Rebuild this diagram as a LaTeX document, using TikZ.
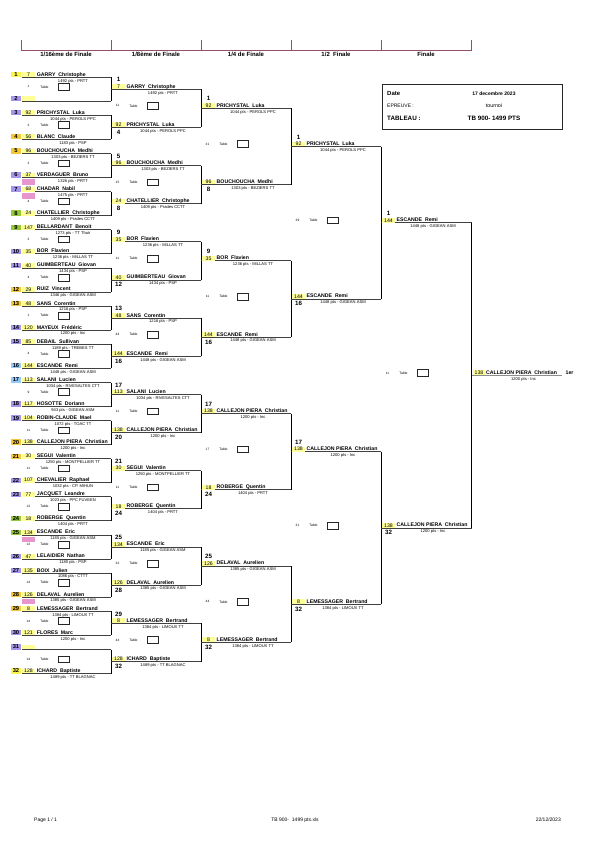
\documentclass[tikz,border=0pt]{standalone}
\usepackage{fontspec}
\setmainfont{Liberation Sans}
\usetikzlibrary{calc}
\definecolor{seedyel}{RGB}{255,255,153}
\definecolor{cyel}{RGB}{250,245,80}
\definecolor{cpur}{RGB}{165,150,235}
\definecolor{cgold}{RGB}{245,200,60}
\definecolor{cgrn}{RGB}{150,200,60}
\definecolor{cblue}{RGB}{150,200,250}
\definecolor{cpink}{RGB}{230,150,205}
\definecolor{hdrcol}{RGB}{150,80,100}

% #1 prefix, #2 xa, #3 xb, #4 line y, #5 seed, #6 name, #7 pts, #8 match number, #9 index
\newcommand\bracketentry[9]{%
  \coordinate (#1a) at (#2,#4);
  \coordinate (#1b) at (#3,#4);
  \draw[hline] (#1a) -- (#1b);
  \node[seedbox] (#1seed) at (#2+7.5,#4-2.6) {#5};
  \node[nm] (#1name) at (#2+15.5,#4-1.2) {#6};
  \node[ptsst] (#1pts) at (#2+52,#4+4.7) {#7};
  \pgfmathtruncatemacro\updown{mod(#9,2)}%
  \ifnum\updown=1
    \node[matchnum] (#1num) at (#2+7.5,#4-7.4) {#8};
  \else
    \node[matchnum] (#1num) at (#2+7.5,#4+6.8) {#8};
  \fi
}
% #1 name, #2 xa, #3 y, #4 number
\newcommand\tablemark[4]{%
  \node[tabnum] (#1n) at (#2+6.5,#3+1.1) {#4};
  \node[tablab] (#1l) at (#2+22.5,#3+1.2) {Table};
  \node[tabbox] (#1b) at (#2+41.5,#3) {};
}

\begin{document}
\begin{tikzpicture}[x=1pt,y=-1pt,
  nm/.style={font=\bfseries\fontsize{5.2}{6}\selectfont, anchor=base west, inner sep=0pt},
  ptsst/.style={font=\fontsize{4.1}{5}\selectfont, anchor=base, inner sep=0pt},
  seedbox/.style={fill=seedyel, draw=none, inner sep=0pt, minimum width=13pt, minimum height=4.8pt, font=\fontsize{5.2}{6}\selectfont},
  slotbox/.style={draw=none, inner sep=0pt, minimum width=10pt, minimum height=5.3pt, font=\bfseries\fontsize{5.8}{6}\selectfont},
  matchnum/.style={font=\bfseries\fontsize{6.2}{7}\selectfont, anchor=base, inner sep=0pt},
  hline/.style={draw=black!75, line width=1pt},
  vline/.style={draw=black, line width=0.75pt},
  tabnum/.style={font=\fontsize{3.2}{4}\selectfont, anchor=base, inner sep=0pt},
  tablab/.style={font=\fontsize{3.4}{4}\selectfont, anchor=base, inner sep=0pt},
  tabbox/.style={draw=black!85, line width=0.5pt, minimum width=10.6pt, minimum height=6.6pt, inner sep=0pt},
  hdrlab/.style={font=\bfseries\fontsize{6}{7}\selectfont, anchor=base, inner sep=0pt},
  hdr/.style={draw=hdrcol, line width=0.8pt},
  foot/.style={font=\fontsize{5}{6}\selectfont, anchor=base, inner sep=0pt},
]
\useasboundingbox[fill=white] (0,0) rectangle (595,841);

% ---------- header ----------
\foreach \x/\n in {21/t0,111/t1,201/t2,291/t3,381/t4,471.5/t5}{
  \coordinate (\n top) at (\x,40);
  \coordinate (\n bot) at (\x,50);
  \draw[hdr] (\n top) -- (\n bot);
}
\draw[hdr] (t0bot) -- (t5bot);
\node[hdrlab] (h1) at (66,56.2) {1/16ème de Finale};
\node[hdrlab] (h2) at (156,56.2) {1/8ème de Finale};
\node[hdrlab] (h3) at (246,56.2) {1/4 de Finale};
\node[hdrlab] (h4) at (336,56.2) {1/2~ Finale};
\node[hdrlab] (h5) at (426,56.2) {Finale};

% ---------- round 1 (1/16) ----------
\foreach \k/\slotcol/\sd/\nm/\pt in {
1/cyel/7/GARRY~ Christophe/1492 pts - PRTT,
2/cpur/{}/{}/{},
3/cpur/92/PRICHYSTAL~ Luka/1044 pts - PEROLS PPC,
4/cgold/56/BLANC~ Claude/1183 pts - PSP,
5/cgold/96/BOUCHOUCHA~ Medhi/1303 pts - BEZIERS TT,
6/cpur/37/VERDAGUER~ Bruno/1326 pts - PRTT,
7/cpur/68/CHADAR~ Nabil/1475 pts - PRTT,
8/cgrn/24/CHATELLIER~ Christophe/1409 pts - Prades CCTT,
9/cgrn/147/BELLARDANT~ Benoit/1273 pts - TT Thuir,
10/cpur/35/BOR~ Flavien/1236 pts - MILLAS TT,
11/cpur/40/GUIMBERTEAU~ Giovan/1434 pts - PSP,
12/cgold/29/RUIZ~ Vincent/1346 pts - GIGEAN ASM,
13/cgold/48/SANS~ Corentin/1216 pts - PSP,
14/cpur/120/MAYEUX~ Frédéric/1200 pts - Inc,
15/cpur/85/DEBAIL~ Sullivan/1189 pts - TREBES TT,
16/cblue/144/ESCANDE~ Remi/1448 pts - GIGEAN ASM,
17/cblue/113/SALANI~ Lucien/1034 pts - RIVESALTES CTT,
18/cpur/117/HOSOTTE~ Doriann/943 pts - GIGEAN ASM,
19/cpur/104/ROBIN-CLAUDE~ Mael/1072 pts - TOAC TT,
20/cgold/138/CALLEJON PIERA~ Christian/1200 pts - Inc,
21/cgold/30/SEGUI~ Valentin/1250 pts - MONTPELLIER TT,
22/cpur/107/CHEVALIER~ Raphael/1032 pts - CP. MIHUN,
23/cpur/77/JACQUET~ Leandre/1023 pts - PPC FUVEEN,
24/cgrn/18/ROBERGE~ Quentin/1404 pts - PRTT,
25/cgrn/134/ESCANDE~ Eric/1185 pts - GIGEAN ASM,
26/cpur/47/LELAIDIER~ Nathan/1180 pts - PSP,
27/cpur/135/BOIX~ Julien/1086 pts - CTTT,
28/cgold/126/DELAVAL~ Aurelien/1385 pts - GIGEAN ASM,
29/cgold/8/LEMESSAGER~ Bertrand/1384 pts - LIMOUX TT,
30/cpur/121/FLORES~ Marc/1200 pts - Inc,
31/cpur/{}/{}/{},
32/cyel/128/ICHARD~ Baptiste/1489 pts - TT BLAGNAC}{
  \pgfmathsetmacro\ly{77.3+38.15*floor((\k-1)/2)+24*mod(\k-1,2)}
  \coordinate (s\k a) at (22,\ly);
  \coordinate (s\k b) at (111,\ly);
  \draw[hline] (s\k a) -- (s\k b);
  \node[slotbox, fill=\slotcol] (s\k num) at (16,\ly-2.65) {\k};
  \node[seedbox] (s\k seed) at (28.5,\ly-2.6) {\sd};
  \node[nm] (s\k name) at (36.7,\ly-1.2) {\nm};
  \node[ptsst] (s\k pts) at (73,\ly+4.7) {\pt};
}
% pink marks
\foreach \k in {6,7,25,28}{
  \pgfmathsetmacro\ly{77.3+38.15*floor((\k-1)/2)+24*mod(\k-1,2)}
  \fill[cpink] (22,\ly+1.5) rectangle (35,\ly+7);
}
% round 1 tables and joins
\foreach \i/\t in {1/1,2/3,3/3,4/4,5/3,6/4,7/1,8/4,9/9,10/11,11/11,12/13,13/13,14/14,15/14,16/14}{
  \pgfmathsetmacro\ty{89.3+38.15*(\i-1)-2.5}
  \tablemark{ta\i}{22}{\ty}{\t}
  \pgfmathtruncatemacro\ka{2*\i-1}
  \pgfmathtruncatemacro\kb{2*\i}
  \draw[vline] (s\ka b) -- (s\kb b);
}

% ---------- round 2 (1/8) ----------
\foreach \j/\sd/\nm/\pt/\num in {
1/7/GARRY~ Christophe/1492 pts - PRTT/1,
2/92/PRICHYSTAL~ Luka/1044 pts - PEROLS PPC/4,
3/96/BOUCHOUCHA~ Medhi/1303 pts - BEZIERS TT/5,
4/24/CHATELLIER~ Christophe/1409 pts - Prades CCTT/8,
5/35/BOR~ Flavien/1236 pts - MILLAS TT/9,
6/40/GUIMBERTEAU~ Giovan/1434 pts - PSP/12,
7/48/SANS~ Corentin/1216 pts - PSP/13,
8/144/ESCANDE~ Remi/1448 pts - GIGEAN ASM/16,
9/113/SALANI~ Lucien/1034 pts - RIVESALTES CTT/17,
10/138/CALLEJON PIERA~ Christian/1200 pts - Inc/20,
11/30/SEGUI~ Valentin/1250 pts - MONTPELLIER TT/21,
12/18/ROBERGE~ Quentin/1404 pts - PRTT/24,
13/134/ESCANDE~ Eric/1185 pts - GIGEAN ASM/25,
14/126/DELAVAL~ Aurelien/1385 pts - GIGEAN ASM/28,
15/8/LEMESSAGER~ Bertrand/1384 pts - LIMOUX TT/29,
16/128/ICHARD~ Baptiste/1489 pts - TT BLAGNAC/32}{
  \pgfmathsetmacro\ly{89.3+38.15*(\j-1)}
  \bracketentry{r2m\j}{111}{201}{\ly}{\sd}{\nm}{\pt}{\num}{\j}
}
\foreach \i/\t in {1/11,2/15,3/11,4/44,5/11,6/11,7/33,8/44}{
  \pgfmathsetmacro\ty{108.375+76.3*(\i-1)-2.5}
  \tablemark{tb\i}{111}{\ty}{\t}
  \pgfmathtruncatemacro\ka{2*\i-1}
  \pgfmathtruncatemacro\kb{2*\i}
  \draw[vline] (r2m\ka b) -- (r2m\kb b);
}

% ---------- round 3 (1/4) ----------
\foreach \j/\sd/\nm/\pt/\num in {
1/92/PRICHYSTAL~ Luka/1044 pts - PEROLS PPC/1,
2/96/BOUCHOUCHA~ Medhi/1303 pts - BEZIERS TT/8,
3/35/BOR~ Flavien/1236 pts - MILLAS TT/9,
4/144/ESCANDE~ Remi/1448 pts - GIGEAN ASM/16,
5/138/CALLEJON PIERA~ Christian/1200 pts - Inc/17,
6/18/ROBERGE~ Quentin/1404 pts - PRTT/24,
7/126/DELAVAL~ Aurelien/1385 pts - GIGEAN ASM/25,
8/8/LEMESSAGER~ Bertrand/1384 pts - LIMOUX TT/32}{
  \pgfmathsetmacro\ly{108.375+76.3*(\j-1)}
  \bracketentry{r3m\j}{201}{291}{\ly}{\sd}{\nm}{\pt}{\num}{\j}
}
\foreach \i/\t in {1/31,2/11,3/17,4/44}{
  \pgfmathsetmacro\ty{146.525+152.6*(\i-1)-2.5}
  \tablemark{tc\i}{201}{\ty}{\t}
  \pgfmathtruncatemacro\ka{2*\i-1}
  \pgfmathtruncatemacro\kb{2*\i}
  \draw[vline] (r3m\ka b) -- (r3m\kb b);
}

% ---------- round 4 (1/2) ----------
\foreach \j/\sd/\nm/\pt/\num in {
1/92/PRICHYSTAL~ Luka/1044 pts - PEROLS PPC/1,
2/144/ESCANDE~ Remi/1448 pts - GIGEAN ASM/16,
3/138/CALLEJON PIERA~ Christian/1200 pts - Inc/17,
4/8/LEMESSAGER~ Bertrand/1384 pts - LIMOUX TT/32}{
  \pgfmathsetmacro\ly{146.525+152.6*(\j-1)}
  \bracketentry{r4m\j}{291}{381}{\ly}{\sd}{\nm}{\pt}{\num}{\j}
}
\foreach \i/\t in {1/39,2/31}{
  \pgfmathsetmacro\ty{222.825+305.2*(\i-1)-2.5}
  \tablemark{td\i}{291}{\ty}{\t}
  \pgfmathtruncatemacro\ka{2*\i-1}
  \pgfmathtruncatemacro\kb{2*\i}
  \draw[vline] (r4m\ka b) -- (r4m\kb b);
}

% ---------- round 5 (finale) ----------
\foreach \j/\sd/\nm/\pt/\num in {
1/144/ESCANDE~ Remi/1448 pts - GIGEAN ASM/1,
2/138/CALLEJON PIERA~ Christian/1200 pts - Inc/32}{
  \pgfmathsetmacro\ly{222.825+305.2*(\j-1)}
  \bracketentry{r5m\j}{381}{471.5}{\ly}{\sd}{\nm}{\pt}{\num}{\j}
}
\tablemark{te1}{381}{372.9}{11}
\draw[vline] (r5m1b) -- (r5m2b);

% ---------- winner ----------
\coordinate (wa) at (471.5,375.4);
\coordinate (wb) at (562,375.4);
\draw[hline, draw=black!45] (wa) -- (wb);
\node[seedbox] (wseed) at (479,372.8) {138};
\node[nm] (wname) at (486,374.2) {CALLEJON PIERA~ Christian};
\node[nm] (wrank) at (565.5,374.2) {1er};
\node[ptsst] (wpts) at (523.5,380.1) {1200 pts - Inc};

% ---------- info box ----------
\draw[black!45, line width=1.1pt] (383,129.4) -- (562.9,129.4) -- (562.9,84.5);
\node[draw=black!85, fill=white, line width=0.7pt, minimum width=180pt, minimum height=45pt, anchor=north west, inner sep=0pt] (info) at (382,83.5) {};
\node[font=\bfseries\fontsize{6}{7}\selectfont, anchor=base west, inner sep=0pt] (idate) at (387,95.4) {Date};
\node[font=\bfseries\fontsize{5}{6}\selectfont, anchor=base, inner sep=0pt] (idatev) at (494,95.1) {17 decembre 2023};
\node[font=\fontsize{5}{6}\selectfont, anchor=base west, inner sep=0pt] (iep) at (387,107.5) {EPREUVE :};
\node[font=\fontsize{5.3}{6}\selectfont, anchor=base, inner sep=0pt] (iepv) at (494,107.5) {tournoi};
\node[font=\bfseries\fontsize{6.3}{7}\selectfont, anchor=base west, inner sep=0pt] (itab) at (387,120.6) {TABLEAU :};
\node[font=\bfseries\fontsize{6.3}{7}\selectfont, anchor=base, inner sep=0pt] (itabv) at (494,120.6) {TB 900- 1499 PTS};

% ---------- footer ----------
\node[foot, anchor=base west] (fpage) at (34,821.8) {Page 1 / 1};
\node[foot] (ffile) at (295,821.8) {TB 900-~ 1499 pts.xls};
\node[foot, anchor=base east] (fdate) at (561,821.8) {22/12/2023};
\end{tikzpicture}
\end{document}
